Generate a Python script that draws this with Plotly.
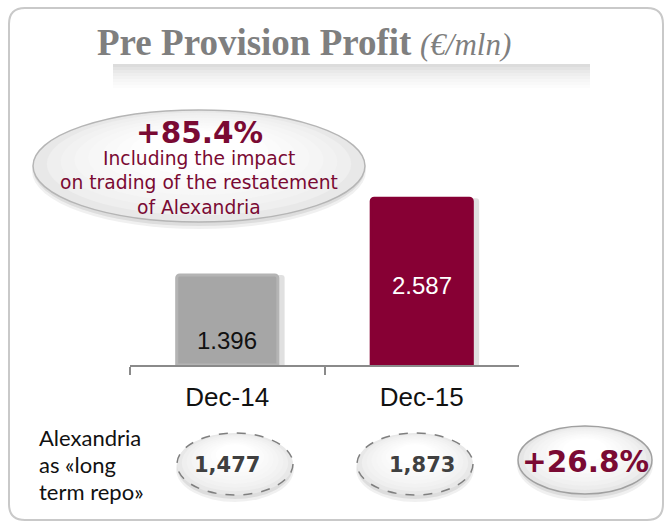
import plotly.graph_objects as go

# ---------------- data ----------------
categories = ["Dec-14", "Dec-15"]
ppp_values = [1396, 2587]
repo_values = [1477, 1873]
growth_reported = "+85.4%"
growth_repo = "+26.8%"
note_lines = ["Including the impact", "on trading of the restatement", "of Alexandria"]
row_label_lines = ["Alexandria", "as «long", "term repo»"]
title_main = "Pre Provision Profit"
title_unit = "(€/mln)"

# ---------------- styles ----------------
bar_colors = ["#a6a6a6", "#870034"]
bar_line_colors = ["#b4b4b4", "#870034"]
label_colors = ["#111111", "#ffffff"]
label_anchor_top = [False, True]     # label measured from bar top or from baseline
label_shift = [25, -87]
MAROON = "#7a0a33"

W, H = 670, 528


def px(x):
    return x / W


def py(y):
    return 1 - y / H


fig = go.Figure()

# bar shadow
fig.add_trace(go.Bar(
    x=categories, y=ppp_values, width=0.52, offset=-0.26 + 0.035,
    marker=dict(color="rgba(0,0,0,0.12)", line=dict(width=0)),
    hoverinfo="skip", showlegend=False))
# bars
fig.add_trace(go.Bar(
    x=categories, y=ppp_values, width=0.52, offset=-0.26,
    marker=dict(color=bar_colors, line=dict(color=bar_line_colors, width=3)),
    hoverinfo="x+y", showlegend=False))

annotations = []
for c, v, col, top, sh in zip(categories, ppp_values, label_colors, label_anchor_top, label_shift):
    annotations.append(dict(
        x=c, y=(v if top else 0), xref="x", yref="y", yshift=sh,
        text=f"{v:,}".replace(",", "."), showarrow=False,
        font=dict(family="Liberation Sans, Arial", size=24, color=col),
        xanchor="center", yanchor="middle"))

shapes = []

# outer rounded box
x0, y0, x1, y1, r = 9, 8, 663, 520, 16
pts = [("M", x0 + r, y0), ("L", x1 - r, y0), ("Q", x1, y0, x1, y0 + r), ("L", x1, y1 - r),
       ("Q", x1, y1, x1 - r, y1), ("L", x0 + r, y1), ("Q", x0, y1, x0, y1 - r),
       ("L", x0, y0 + r), ("Q", x0, y0, x0 + r, y0)]
path = ""
for p in pts:
    cmd = p[0]
    coords = p[1:]
    s = []
    for i in range(0, len(coords), 2):
        s.append(f"{px(coords[i]):.5f},{py(coords[i + 1]):.5f}")
    path += cmd + " ".join(s) + " "
path += "Z"
shapes.append(dict(type="path", path=path, xref="paper", yref="paper",
                   line=dict(color="#c9c9c9", width=2), fillcolor="rgba(0,0,0,0)", layer="below"))

# title gradient band
band_cols = ["#dcdcdc", "#e3e3e3", "#e9e9e9", "#eeeeee", "#f2f2f2", "#f6f6f6", "#f9f9f9", "#fcfcfc"]
for k, col in enumerate(band_cols):
    shapes.append(dict(type="rect", xref="paper", yref="paper",
                       x0=px(113), x1=px(590), y0=py(64 + 3 * k), y1=py(67 + 3 * k),
                       fillcolor=col, line=dict(width=0), layer="below"))


def ellipse(cx, cy, rx, ry, line_color, dash="solid", base="#e2e2e2", lw=1.5):
    out = []
    # drop shadow
    out.append(dict(type="circle", xref="paper", yref="paper",
                    x0=px(cx - rx - 1), x1=px(cx + rx + 1), y0=py(cy + ry + 7), y1=py(cy - ry + 3),
                    fillcolor="rgba(0,0,0,0.06)", line=dict(width=0)))
    out.append(dict(type="circle", xref="paper", yref="paper",
                    x0=px(cx - rx), x1=px(cx + rx), y0=py(cy + ry + 4), y1=py(cy - ry + 2),
                    fillcolor="rgba(0,0,0,0.08)", line=dict(width=0)))

    def hexmix(a, b, t):
        a = [int(a[i:i + 2], 16) for i in (1, 3, 5)]
        b = [int(b[i:i + 2], 16) for i in (1, 3, 5)]
        return "#" + "".join(f"{round(a[j] + (b[j] - a[j]) * t):02x}" for j in range(3))
    fx, fy = cx, cy - 0.45 * ry
    n = 9
    for k in range(n):
        s = 1 - k / n * 0.75
        t = k / (n - 1)
        ccx, ccy = fx + s * (cx - fx), fy + s * (cy - fy)
        out.append(dict(type="circle", xref="paper", yref="paper",
                        x0=px(ccx - s * rx), x1=px(ccx + s * rx),
                        y0=py(ccy + s * ry), y1=py(ccy - s * ry),
                        fillcolor=hexmix(base, "#ffffff", t ** 0.6), line=dict(width=0)))
    out.append(dict(type="circle", xref="paper", yref="paper",
                    x0=px(cx - rx), x1=px(cx + rx), y0=py(cy + ry), y1=py(cy - ry),
                    fillcolor="rgba(0,0,0,0)", line=dict(color=line_color, width=lw, dash=dash)))
    return out


shapes += ellipse(199, 166, 166, 56, "#b5b5b5", base="#e8e8e8")
shapes += ellipse(235, 464, 58, 31, "#7f7f7f", dash="dash", base="#e8e8e8")
shapes += ellipse(415, 464, 58, 31, "#7f7f7f", dash="dash", base="#e8e8e8")
shapes += ellipse(585, 460, 67, 34, "#a0a0a0", base="#e6e6e6")

# title
annotations.append(dict(x=px(95), y=py(42), xref="paper", yref="paper", xanchor="left", yanchor="middle",
                        text=f"<b>{title_main}</b>", showarrow=False,
                        font=dict(family="Liberation Serif, Times New Roman", size=37, color="#7f7f7f")))
annotations.append(dict(x=px(418), y=py(44), xref="paper", yref="paper", xanchor="left", yanchor="middle",
                        text=f"<i>{title_unit}</i>", showarrow=False,
                        font=dict(family="Liberation Serif, Times New Roman", size=31, color="#7f7f7f")))

# bubble texts
annotations.append(dict(x=px(199), y=py(133), xref="paper", yref="paper", xanchor="center", yanchor="middle",
                        text=f"<b>{growth_reported}</b>", showarrow=False,
                        font=dict(family="DejaVu Sans, Verdana", size=29.5, color=MAROON)))
for i, line in enumerate(note_lines):
    annotations.append(dict(x=px(199), y=py(158 + 24.5 * i), xref="paper", yref="paper",
                            xanchor="center", yanchor="middle", text=line, showarrow=False,
                            font=dict(family="DejaVu Sans, Verdana", size=18.7, color=MAROON)))

for i, line in enumerate(row_label_lines):
    annotations.append(dict(x=px(37), y=py(437 + 27 * i), xref="paper", yref="paper",
                            xanchor="left", yanchor="middle", text=line, showarrow=False,
                            font=dict(family="Lato, Calibri", size=22, color="#111111")))

for cat, v in zip(categories, repo_values):
    annotations.append(dict(x=cat, y=py(465), xref="x", yref="paper",
                            xanchor="center", yanchor="middle", text=f"<b>{v:,}</b>", showarrow=False,
                            font=dict(family="DejaVu Sans, Verdana", size=21, color="#404040")))

annotations.append(dict(x=px(585), y=py(462), xref="paper", yref="paper", xanchor="center", yanchor="middle",
                        text=f"<b>{growth_repo}</b>", showarrow=False,
                        font=dict(family="DejaVu Sans, Verdana", size=29.5, color=MAROON)))

fig.update_layout(
    width=W, height=H, autosize=False,
    margin=dict(l=0, r=0, t=0, b=0),
    paper_bgcolor="white", plot_bgcolor="rgba(0,0,0,0)",
    barmode="overlay", barcornerradius=3,
    showlegend=False,
    xaxis=dict(domain=[px(130), px(519)], type="category", range=[-0.5, 1.5],
               showline=True, linecolor="#8a8a8a", linewidth=1.5,
               ticks="outside", ticklen=8, tickwidth=1.5, tickcolor="#8a8a8a",
               tickson="boundaries", ticklabelstandoff=8,
               showgrid=False, zeroline=False, fixedrange=True,
               tickfont=dict(family="Liberation Sans, Arial", size=26, color="#111111")),
    yaxis=dict(domain=[py(365), py(171.5)], range=[0, 3000], visible=False, fixedrange=True),
    shapes=shapes, annotations=annotations,
)

fig.write_html("out.html", config={"displayModeBar": False},
               post_script="document.body.style.margin='0';document.body.style.overflow='hidden';")
